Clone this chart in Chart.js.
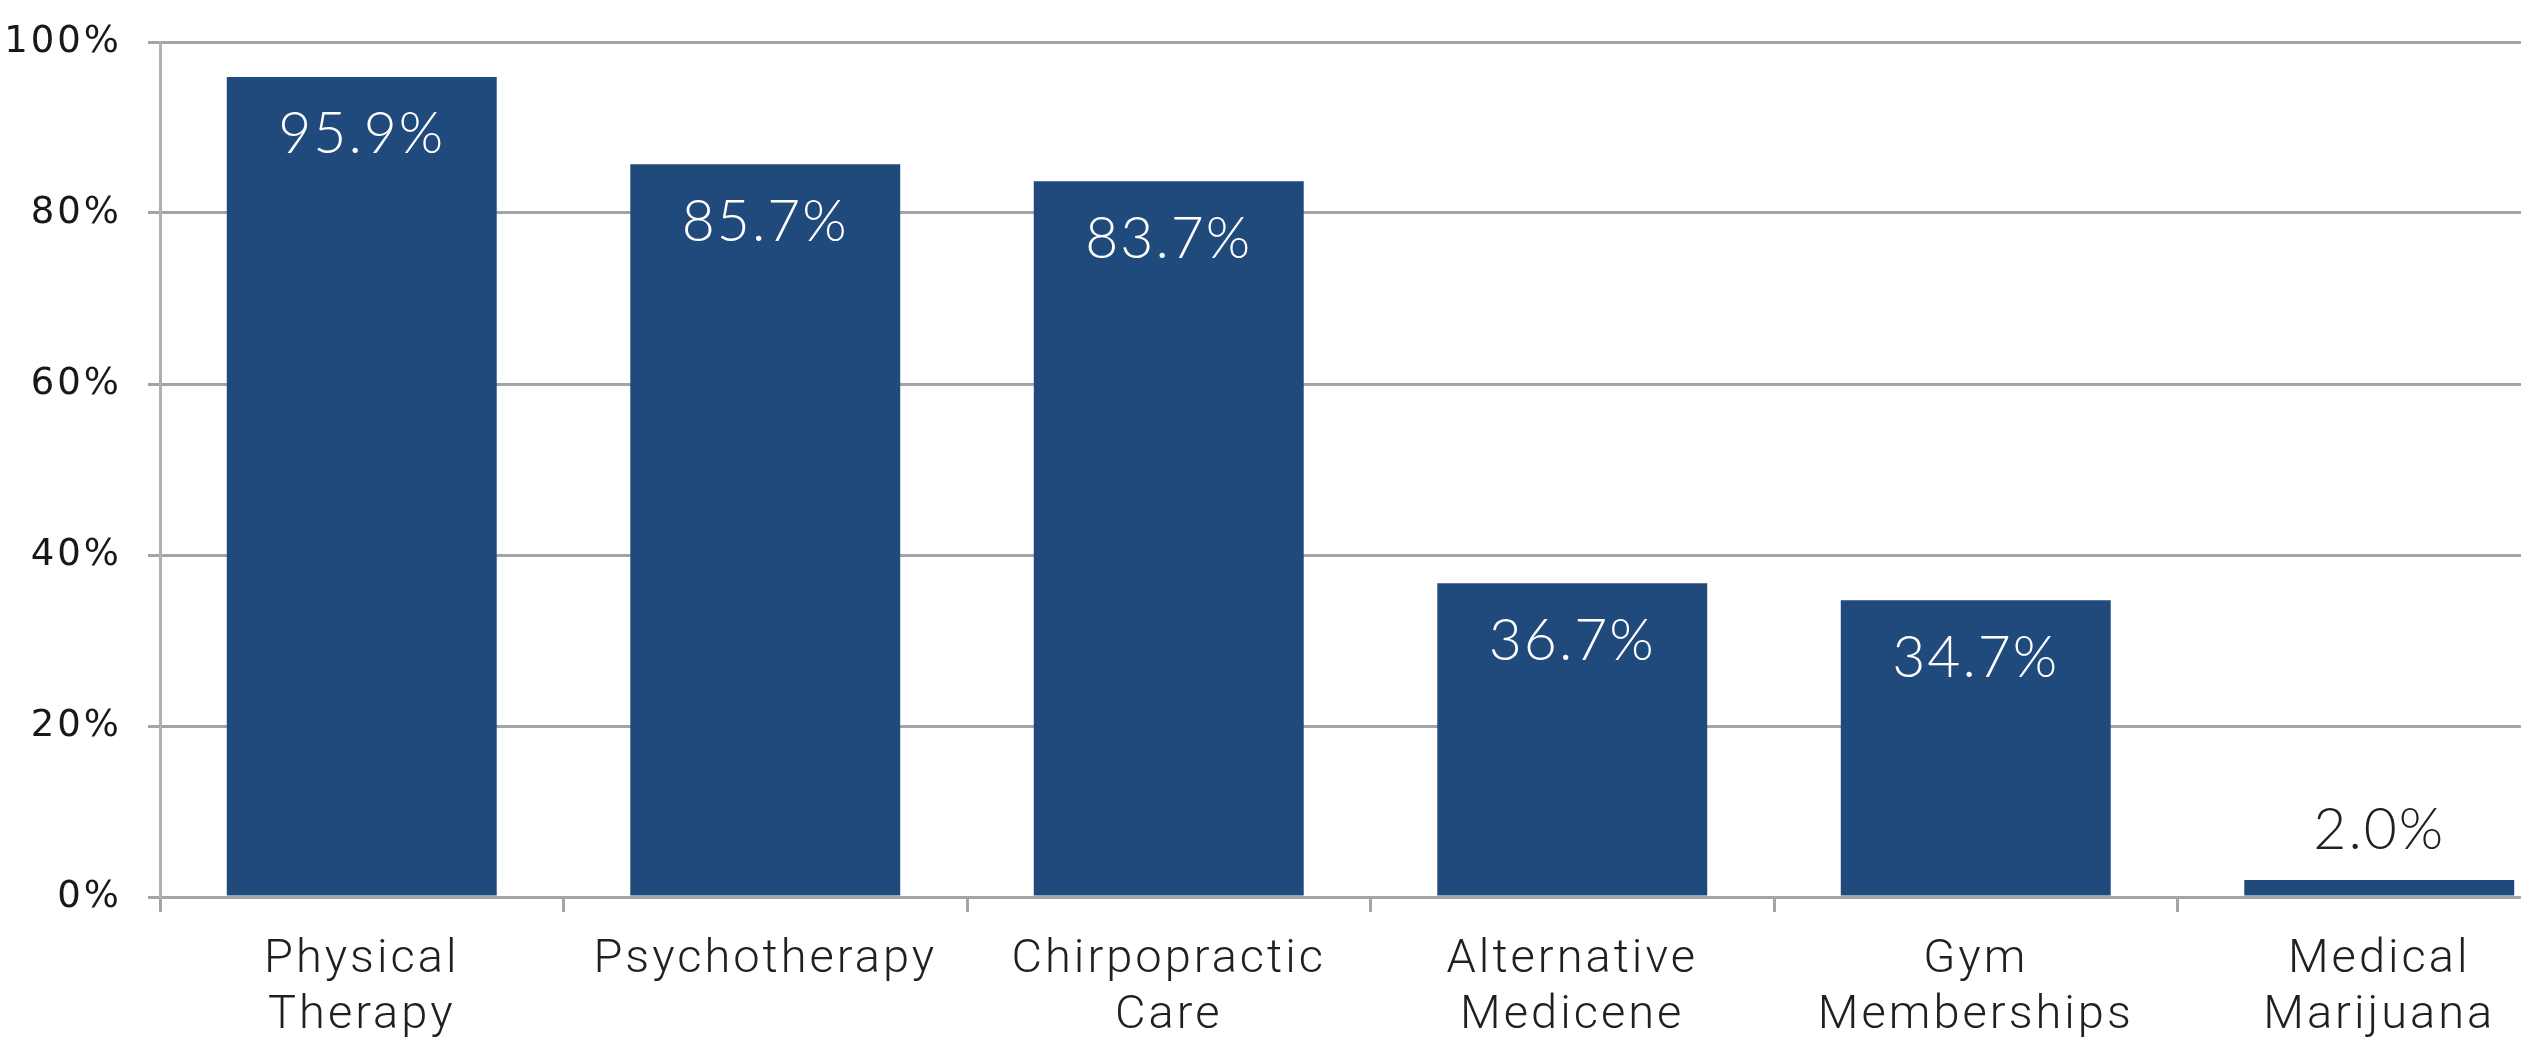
<!DOCTYPE html>
<html>
<head>
<meta charset="utf-8">
<script src="https://cdn.jsdelivr.net/npm/chart.js@4.4.1/dist/chart.umd.min.js"></script>
<style>
    html, body { margin: 0; padding: 0; background: #fff; }
    #frame { width: 2521px; height: 1040px; overflow: hidden; position: relative; }
    #wrap { width: 2600px; height: 1040px; position: absolute; left: 0; top: 0; }
</style>
</head>
<body>
<div id="frame"><div id="wrap"><canvas id="barChart"></canvas></div></div>
<script>
// Chart data
const categories = [
    ['Physical', 'Therapy'],
    'Psychotherapy',
    ['Chirpopractic', 'Care'],
    ['Alternative', 'Medicene'],
    ['Gym', 'Memberships'],
    ['Medical', 'Marijuana']
];
const shares = [95.9, 85.7, 83.7, 36.7, 34.7, 2.0];
const tickValues = [0, 20, 40, 60, 80, 100];

const barColor = '#214a7c';
const gridColor = '#a4a4a8';
const textColor = '#231f20';

// Wider letter spacing for axis text (scales are drawn before datasets)
const axisSpacing = {
    id: 'axisSpacing',
    beforeDraw(chart) { chart.ctx.letterSpacing = '3px'; },
    beforeDatasetsDraw(chart) { chart.ctx.letterSpacing = '0px'; }
};

// Value labels: white inside tall bars, dark above short ones
const valueLabels = {
    id: 'valueLabels',
    afterDatasetsDraw(chart) {
        const ctx = chart.ctx;
        const meta = chart.getDatasetMeta(0);
        ctx.save();
        ctx.font = '300 57px Lato';
        ctx.letterSpacing = '2px';
        ctx.textAlign = 'center';
        ctx.textBaseline = 'middle';
        meta.data.forEach(function(bar, i) {
            const v = shares[i];
            const text = v.toFixed(1) + '%';
            if (v > 10) {
                ctx.fillStyle = '#ffffff';
                ctx.fillText(text, bar.x, bar.y + 58);
            } else {
                ctx.fillStyle = textColor;
                ctx.fillText(text, bar.x, bar.y - 49);
            }
        });
        ctx.restore();
    }
};

const ctx = document.getElementById('barChart').getContext('2d');
new Chart(ctx, {
    type: 'bar',
    data: {
        labels: categories,
        datasets: [{
            data: shares,
            backgroundColor: barColor,
            borderWidth: 0,
            barPercentage: 0.669,
            categoryPercentage: 1
        }]
    },
    options: {
        responsive: true,
        maintainAspectRatio: false,
        animation: false,
        layout: {
            padding: { top: 42, right: 19, bottom: 0, left: 0 }
        },
        plugins: {
            legend: { display: false },
            tooltip: { enabled: false }
        },
        scales: {
            x: {
                grid: {
                    offset: true,
                    drawOnChartArea: false,
                    drawTicks: true,
                    tickLength: 15,
                    color: gridColor,
                    lineWidth: 3
                },
                border: { color: gridColor, width: 3 },
                ticks: {
                    color: textColor,
                    font: { family: 'Roboto', weight: 300, size: 47, lineHeight: 1.2 },
                    padding: 20,
                    maxRotation: 0,
                    autoSkip: false
                },
                afterFit: function(scale) {
                    scale.height = 143;
                    scale.paddingLeft = 0;
                    scale.paddingRight = 0;
                }
            },
            y: {
                min: 0,
                max: 100,
                afterBuildTicks: function(scale) {
                    scale.ticks = tickValues.map(function(v) { return { value: v }; });
                },
                grid: {
                    color: gridColor,
                    lineWidth: 3,
                    tickLength: 12
                },
                border: { color: '#b0b0b4', width: 3 },
                ticks: {
                    color: '#1a1718',
                    font: { family: 'DejaVu Sans', size: 37 },
                    padding: 26,
                    callback: function(v) { return v + '%'; }
                },
                afterFit: function(scale) {
                    scale.width = 160;
                    scale.paddingTop = 0;
                    scale.paddingBottom = 0;
                }
            }
        }
    },
    plugins: [axisSpacing, valueLabels]
});
</script>
</body>
</html>
